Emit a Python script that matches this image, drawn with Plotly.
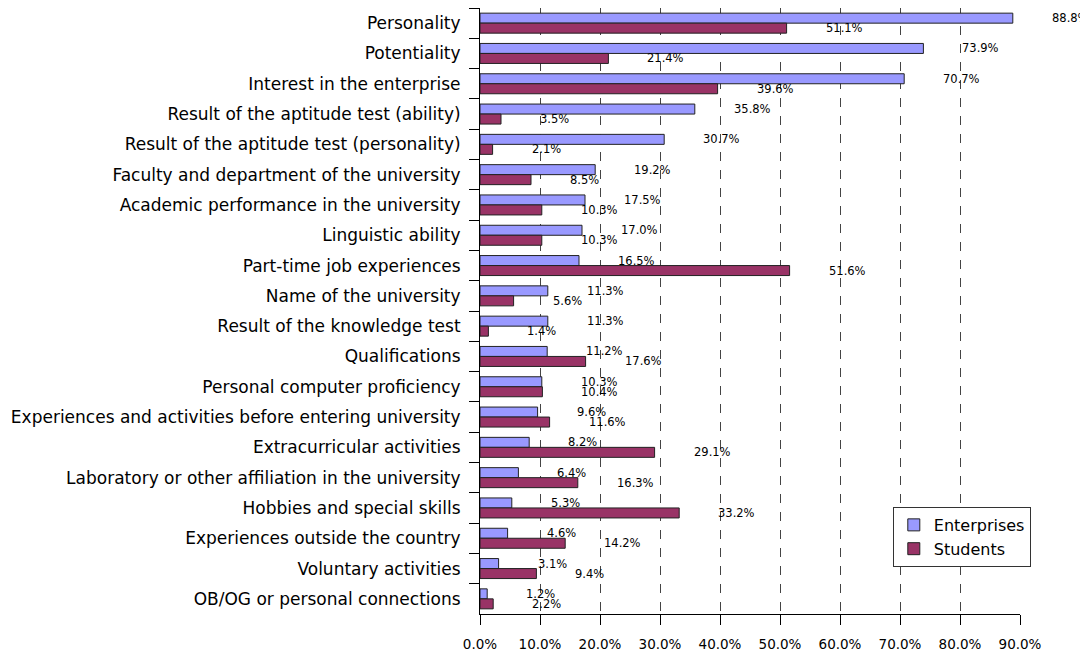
import plotly.graph_objects as go

categories = [
    "Personality",
    "Potentiality",
    "Interest in the enterprise",
    "Result of the aptitude test (ability)",
    "Result of the aptitude test (personality)",
    "Faculty and department of the university",
    "Academic performance in the university",
    "Linguistic ability",
    "Part-time job experiences",
    "Name of the university",
    "Result of the knowledge test",
    "Qualifications",
    "Personal computer proficiency",
    "Experiences and activities before entering university",
    "Extracurricular activities",
    "Laboratory or other affiliation in the university",
    "Hobbies and special skills",
    "Experiences outside the country",
    "Voluntary activities",
    "OB/OG or personal connections",
]
enterprises = [88.8, 73.9, 70.7, 35.8, 30.7, 19.2, 17.5, 17.0, 16.5, 11.3,
               11.3, 11.2, 10.3, 9.6, 8.2, 6.4, 5.3, 4.6, 3.1, 1.2]
students = [51.1, 21.4, 39.6, 3.5, 2.1, 8.5, 10.3, 10.3, 51.6, 5.6,
            1.4, 17.6, 10.4, 11.6, 29.1, 16.3, 33.2, 14.2, 9.4, 2.2]
x_ticks = [0, 10, 20, 30, 40, 50, 60, 70, 80, 90]
x_tick_labels = ["0.0%", "10.0%", "20.0%", "30.0%", "40.0%", "50.0%",
                 "60.0%", "70.0%", "80.0%", "90.0%"]

FONT = "DejaVu Sans, Verdana, sans-serif"

fig = go.Figure()
fig.add_trace(go.Bar(
    name="Enterprises", y=categories, x=enterprises, orientation="h",
    marker=dict(color="#9999FF", line=dict(color="#222222", width=1)),
))
fig.add_trace(go.Bar(
    name="Students", y=categories, x=students, orientation="h",
    marker=dict(color="#993366", line=dict(color="#222222", width=1)),
))

annotations = []
for cat, v in zip(categories, enterprises):
    annotations.append(dict(x=v, y=cat, xref="x", yref="y", text=f"{v:.1f}%",
                            showarrow=False, xanchor="left", yanchor="middle",
                            xshift=37, yshift=5,
                            font=dict(family=FONT, size=11.5, color="#000000")))
for cat, v in zip(categories, students):
    annotations.append(dict(x=v, y=cat, xref="x", yref="y", text=f"{v:.1f}%",
                            showarrow=False, xanchor="left", yanchor="middle",
                            xshift=37, yshift=-5,
                            font=dict(family=FONT, size=11.5, color="#000000")))

fig.update_layout(
    width=1080, height=645,
    margin=dict(l=472, r=68, t=0, b=39, autoexpand=False),
    paper_bgcolor="white", plot_bgcolor="white",
    barmode="group", bargap=0.34, bargroupgap=0,
    font=dict(family=FONT, color="#000000"),
    annotations=annotations,
    legend=dict(
        x=1.02, y=0.0776, xanchor="right", yanchor="bottom",
        bgcolor="white", bordercolor="#333333", borderwidth=1,
        font=dict(family=FONT, size=16), traceorder="normal",
        itemwidth=30, tracegroupgap=2,
    ),
    xaxis=dict(
        range=[0, 90], tickvals=x_ticks, ticktext=x_tick_labels,
        showgrid=True, gridcolor="#444444", griddash="dash", gridwidth=1,
        showline=True, linecolor="#000000", linewidth=1,
        ticks="outside", ticklen=10, tickcolor="#000000",
        ticklabelstandoff=8,
        tickfont=dict(family=FONT, size=13.5), zeroline=False,
    ),
    yaxis=dict(
        autorange="reversed", tickson="boundaries",
        showline=True, linecolor="#000000", linewidth=1,
        ticks="outside", ticklen=10, tickcolor="#000000",
        ticklabelstandoff=15,
        tickfont=dict(family=FONT, size=17), showgrid=False,
    ),
)

fig.write_html("out.html")
